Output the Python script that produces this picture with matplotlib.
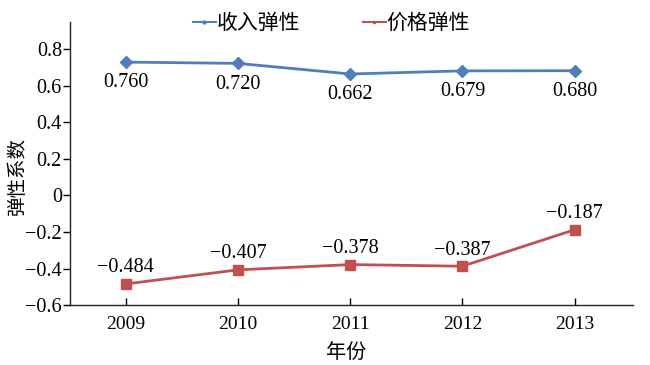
import matplotlib
matplotlib.use("Agg")
import matplotlib.pyplot as plt
import numpy as np

# data
years = ["2009", "2010", "2011", "2012", "2013"]
income = [0.73, 0.723, 0.665, 0.682, 0.683]
income_labels = ["0.760", "0.720", "0.662", "0.679", "0.680"]
price = [-0.484, -0.407, -0.378, -0.387, -0.187]
price_labels = ["\u22120.484", "\u22120.407", "\u22120.378", "\u22120.387", "\u22120.187"]
yticks = [-0.6, -0.4, -0.2, 0, 0.2, 0.4, 0.6, 0.8]

serif = ["Liberation Serif", "DejaVu Serif"]
cjk = ["Noto Sans CJK SC", "DejaVu Sans"]

fig = plt.figure(figsize=(6.5, 3.65), dpi=100)
ax = fig.add_axes([0.107, 0.164, 0.867, 0.776])

x = np.arange(len(years))
blue = "#4F7EBB"
red = "#C0504D"

l1, = ax.plot(x, income, color=blue, lw=2, marker="D", ms=6, label="收入弹性")
l2, = ax.plot(x, price, color=red, lw=2, marker="s", ms=6.5, label="价格弹性")

for xi, v, s in zip(x, income, income_labels):
    ax.annotate(s, (xi, v), xytext=(0, -15), textcoords="offset points",
                ha="center", va="center", fontsize=14.5, family=serif)
for xi, v, s in zip(x, price, price_labels):
    ax.annotate(s, (xi, v), xytext=(0, 11.5), textcoords="offset points",
                ha="center", va="center", fontsize=14.5, family=serif)

ax.set_xlim(-0.5, 4.52)
ax.set_ylim(-0.6, 0.95)
ax.set_xticks(x)
ax.set_xticklabels(years, fontsize=14, family=serif)
ax.set_yticks(yticks)
ax.set_yticklabels(["0" if t == 0 else f"{t:.1f}".replace("-", "\u2212") for t in yticks],
                   fontsize=14.5, family=serif)
ax.tick_params(axis="x", direction="in", length=5, width=1, pad=8)
ax.tick_params(axis="y", direction="out", length=5, width=1, pad=0.5)

for s in ["top", "right"]:
    ax.spines[s].set_visible(False)
for s in ["left", "bottom"]:
    ax.spines[s].set_linewidth(1)
    ax.spines[s].set_color("#222222")

ax.set_xlabel("年份", fontsize=14.5, family=cjk)
ax.set_ylabel("弹性系数", fontsize=14, family=cjk)
ax.xaxis.set_label_coords(0.49, -0.166)
ax.yaxis.set_label_coords(-0.093, 0.456)
ax.xaxis.label.set_va("center")
ax.yaxis.label.set_va("center")

leg = fig.legend(handles=[l1, l2], loc="center", bbox_to_anchor=(0.51, 0.937), ncol=2,
                 frameon=False, prop={"family": cjk, "size": 15}, handlelength=1.1,
                 handletextpad=0.05, columnspacing=3.0, markerscale=0.3)
for h in leg.legend_handles:
    h.set_linewidth(1.5)

fig.savefig("out.png", dpi=100)
